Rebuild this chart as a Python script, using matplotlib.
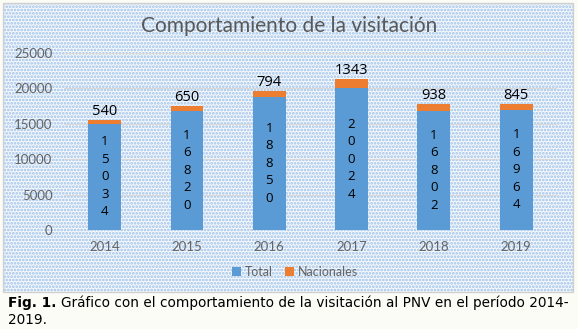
import matplotlib
matplotlib.use('Agg')
import numpy as np
from matplotlib import pyplot as plt
from matplotlib.patches import Rectangle

years = ['2014', '2015', '2016', '2017', '2018', '2019']
total = [15034, 16820, 18850, 20024, 16802, 16964]
nacionales = [540, 650, 794, 1343, 938, 845]
yticks = [0, 5000, 10000, 15000, 20000, 25000]

blue = '#5b9bd5'
orange = '#ed7d31'
gray_txt = '#595959'

plt.rcParams['hatch.linewidth'] = 1.3

fig = plt.figure(figsize=(5.78, 3.29), dpi=100)
fig.patch.set_facecolor('#fcfcf7')

# fondo punteado del panel del grafico
panel = Rectangle((3 / 578, 1 - 292 / 329), 570 / 578, 289 / 329,
                  transform=fig.transFigure, facecolor='#f4f8fc',
                  edgecolor='#9fc2e8', hatch='.....', linewidth=0, zorder=-2)
fig.patches.append(panel)
border = Rectangle((3 / 578, 1 - 292 / 329), 570 / 578, 289 / 329,
                   transform=fig.transFigure, facecolor='none',
                   edgecolor='#d0d0d0', linewidth=1, zorder=-1)
fig.patches.append(border)

ax = fig.add_axes([0.110, 0.301, 0.854, 0.538])
ax.patch.set_alpha(0)

x = np.arange(len(years))
ax.bar(x, total, width=0.4, color=blue, label='Total', zorder=3)
ax.bar(x, nacionales, width=0.4, bottom=total, color=orange, label='Nacionales', zorder=3)

for i in range(len(years)):
    ax.text(x[i], total[i] + nacionales[i] + 150, str(nacionales[i]),
            ha='center', va='bottom', fontsize=10.5, family='Open Sans', color='black', zorder=4)
    ax.text(x[i], total[i] / 2, '\n'.join(str(total[i])),
            ha='center', va='center', fontsize=9.5, family='Open Sans', color='black',
            linespacing=1.45, zorder=4)

ax.set_xlim(-0.5, len(years) - 0.5)
ax.set_ylim(0, 25000)
ax.set_yticks(yticks)
ax.set_xticks(x)
ax.set_xticklabels(years)
ax.tick_params(length=0, labelsize=9.5, labelcolor='#646464', pad=8)
for lab in ax.get_xticklabels() + ax.get_yticklabels():
    lab.set_family('Lato')
ax.grid(axis='y', color='#d9d9d9', linewidth=0.8, zorder=1)
for s in ax.spines.values():
    s.set_visible(False)

fig.text(0.50, 1 - 26 / 329, 'Comportamiento de la visitación', ha='center', va='center',
         fontsize=15, family='Lato', color=gray_txt)

leg = fig.legend(loc='center', bbox_to_anchor=(0.51, 1 - 272 / 329), ncol=2, frameon=False,
                 handlelength=0.7, handleheight=0.7, handletextpad=0.3, columnspacing=1.0,
                 prop={'family': 'Lato', 'size': 9})
for t in leg.get_texts():
    t.set_color('#646464')

# pie de figura
cap = fig.text(8 / 578, 1 - 303 / 329, 'Fig. 1.', ha='left', va='center', fontsize=9.8,
               fontweight='bold', family='DejaVu Sans')
fig.canvas.draw()
bb = cap.get_window_extent().transformed(fig.transFigure.inverted())
fig.text(bb.x1 + 5 / 578, 1 - 303 / 329,
         'Gráfico con el comportamiento de la visitación al PNV en el período 2014-',
         ha='left', va='center', fontsize=9.8, family='DejaVu Sans')
fig.text(8 / 578, 1 - 320 / 329, '2019.', ha='left', va='center', fontsize=9.8,
         family='DejaVu Sans')

fig.savefig('out.png', dpi=100, facecolor=fig.get_facecolor())
